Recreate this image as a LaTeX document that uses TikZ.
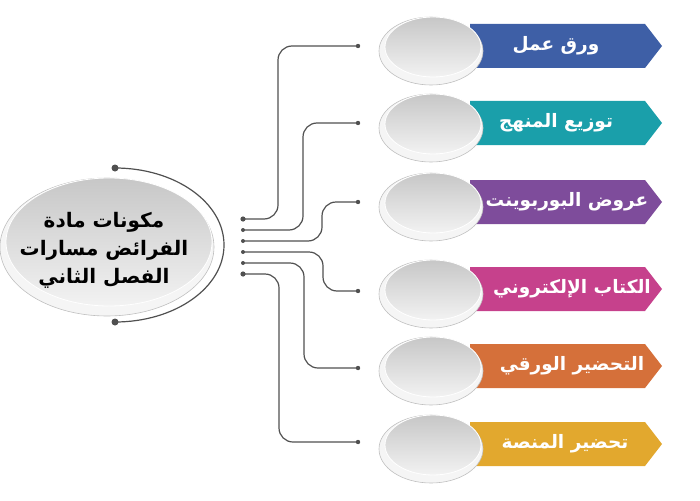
\documentclass[tikz,border=0pt]{standalone}
\usepackage{fontspec}
\usepackage{tikz}
\usetikzlibrary{calc, positioning, shapes.geometric}
\TeXXeTstate=1
\newfontfamily\arabicfont[Script=Arabic]{DejaVu Sans}
\definecolor{itemblue}{RGB}{62,95,166}
\definecolor{itemteal}{RGB}{26,159,170}
\definecolor{itempurple}{RGB}{126,76,155}
\definecolor{itemmagenta}{RGB}{198,65,140}
\definecolor{itemorange}{RGB}{213,112,58}
\definecolor{itemgold}{RGB}{226,168,46}
\definecolor{wire}{RGB}{80,80,80}
\newcommand\discshape[5]{\fill[black!4, draw=black!25, line width=0.6pt] (#1,#2) ellipse [x radius=#3, y radius=#4];\shade[top color=black!22, bottom color=black!5, draw=white, line width=0.8pt] (#1+2,#2-#5) ellipse [x radius=#3-4, y radius=#4-#5];}
\newcommand\itembox[5]{\fill[#3] (470,#2-22) -- (645,#2-22) -- (662,#2) -- (645,#2+22) -- (470,#2+22) -- cycle;\discshape{431}{#2+5}{52}{34}{4}\node[itemtext] (#1) at (#4,#2) {#5};}

\begin{document}
\begin{tikzpicture}[x=1pt, y=-1pt,
  itemtext/.style={text=white, font=\arabicfont\bfseries\fontsize{18.5}{22}\selectfont},
  hubtext/.style={text=black, align=center, font=\arabicfont\bfseries\fontsize{20}{28}\selectfont},
  wireline/.style={draw=wire, line width=1.2pt, rounded corners=14pt},
  wiredot/.style={fill=wire}]
\useasboundingbox (0,0) rectangle (700,500);

\discshape{107}{247}{107}{69}{5}
\node[hubtext] (hub) at (104,250) {\beginR مكونات مادة\endR\\\beginR الفرائض مسارات\endR\\\beginR الفصل الثاني\endR};
\coordinate (top) at (115,168);
\coordinate (bot) at (115,322);
\draw[draw=wire, line width=1.2pt] (top) arc[start angle=-90, end angle=90, x radius=109, y radius=77];
\fill[wiredot] (top) circle (3.5);
\fill[wiredot] (bot) circle (3.5);

\itembox{work}{46}{itemblue}{556}{\beginR ورق عمل\endR}
\itembox{plan}{123}{itemteal}{556}{\beginR توزيع المنهج\endR}
\itembox{slides}{202}{itempurple}{567}{\beginR عروض البوربوينت\endR}
\itembox{ebook}{289}{itemmagenta}{572}{\beginR الكتاب الإلكتروني\endR}
\itembox{paper}{366}{itemorange}{572}{\beginR التحضير الورقي\endR}
\itembox{platform}{444}{itemgold}{565}{\beginR تحضير المنصة\endR}

\coordinate (l1) at (243,219);
\coordinate (l2) at (243,230);
\coordinate (l3) at (243,241);
\coordinate (l4) at (243,252);
\coordinate (l5) at (243,263);
\coordinate (l6) at (243,274);
\coordinate (r1) at (358,46);
\coordinate (r2) at (358,123);
\coordinate (r3) at (358,202);
\coordinate (r4) at (358,291);
\coordinate (r5) at (358,368);
\coordinate (r6) at (358,442);
\coordinate (v1) at (278,0);
\coordinate (v2) at (303,0);
\coordinate (v3) at (322,0);
\coordinate (v4) at (323,0);
\coordinate (v5) at (304,0);
\coordinate (v6) at (279,0);

\draw[wireline] (l1) -| (v1 |- r1) -- (r1);
\draw[wireline] (l2) -| (v2 |- r2) -- (r2);
\draw[wireline] (l3) -| (v3 |- r3) -- (r3);
\draw[wireline] (l4) -| (v4 |- r4) -- (r4);
\draw[wireline] (l5) -| (v5 |- r5) -- (r5);
\draw[wireline] (l6) -| (v6 |- r6) -- (r6);

\fill[wiredot] (l1) circle (2.6);
\fill[wiredot] (l2) circle (2);
\fill[wiredot] (l3) circle (2);
\fill[wiredot] (l4) circle (2);
\fill[wiredot] (l5) circle (2);
\fill[wiredot] (l6) circle (2.6);
\fill[wiredot] (r1) circle (2.2);
\fill[wiredot] (r2) circle (2.2);
\fill[wiredot] (r3) circle (2.2);
\fill[wiredot] (r4) circle (2.2);
\fill[wiredot] (r5) circle (2.2);
\fill[wiredot] (r6) circle (2.2);
\end{tikzpicture}
\end{document}
